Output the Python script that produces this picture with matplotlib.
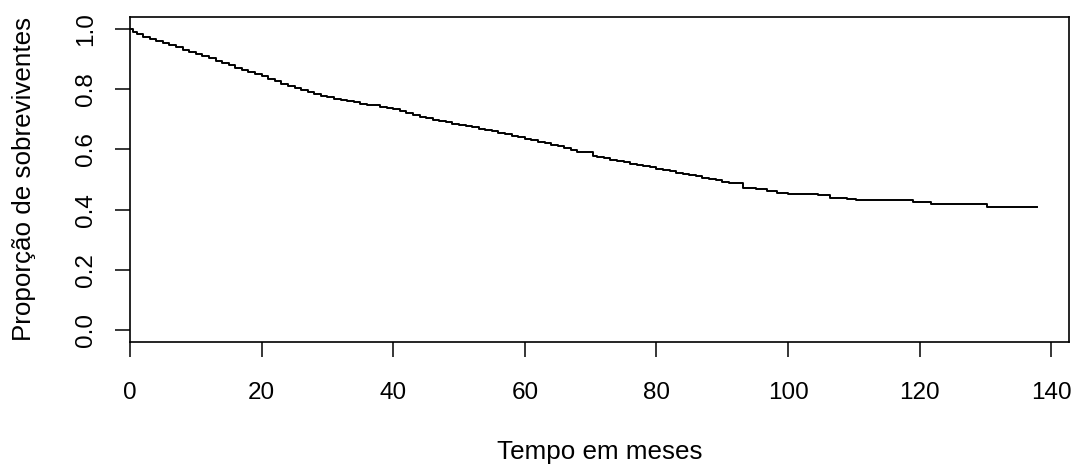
import numpy as np
import matplotlib.pyplot as plt

# Curva de Kaplan-Meier (tempo em meses, proporção)
tempo = [0, 0.5, 1, 2, 3, 4, 5, 6, 7, 8, 9, 10, 11, 12, 13, 14, 15, 16, 17, 18, 19,
         20, 21, 22, 23, 24, 25, 26, 27, 28, 29, 30, 31, 32, 33, 34, 35, 36, 37, 38, 39,
         40, 41, 42, 43, 44, 45, 46, 47, 48, 49, 50, 51, 52, 53, 54, 55, 56, 57, 58, 59,
         60, 61, 62, 63, 64, 65, 66, 67, 68, 70.4, 71, 72, 73, 74, 75, 76, 77, 78, 79,
         80, 81, 82, 83, 84, 85, 86, 87, 88, 89, 90, 91, 93.2, 95.2, 96.8, 98.3,
         100, 104.6, 106.4, 108.9, 110.4, 119, 121.7, 130.3, 137.8]
sobrev = [1.000, 0.990, 0.982, 0.973, 0.966, 0.959, 0.953, 0.946, 0.939, 0.932, 0.925,
          0.917, 0.910, 0.903, 0.895, 0.887, 0.879, 0.872, 0.865, 0.858, 0.851,
          0.843, 0.835, 0.826, 0.818, 0.811, 0.804, 0.797, 0.790, 0.784, 0.778,
          0.773, 0.768, 0.764, 0.760, 0.756, 0.752, 0.749, 0.746, 0.742, 0.737,
          0.733, 0.727, 0.721, 0.714, 0.708, 0.703, 0.698, 0.694, 0.690, 0.686,
          0.682, 0.678, 0.674, 0.669, 0.665, 0.660, 0.656, 0.651, 0.645, 0.640,
          0.635, 0.631, 0.626, 0.621, 0.616, 0.610, 0.604, 0.598, 0.592, 0.578,
          0.574, 0.570, 0.566, 0.562, 0.557, 0.553, 0.549, 0.544, 0.540,
          0.536, 0.531, 0.527, 0.523, 0.518, 0.514, 0.510, 0.506, 0.502, 0.497,
          0.492, 0.487, 0.472, 0.467, 0.461, 0.456,
          0.452, 0.447, 0.440, 0.436, 0.431, 0.426, 0.420, 0.409, 0.409]

xticks = [0, 20, 40, 60, 80, 100, 120, 140]
yticks = [0.0, 0.2, 0.4, 0.6, 0.8, 1.0]

plt.rcParams['font.family'] = ['Liberation Sans', 'DejaVu Sans']
plt.rcParams['font.size'] = 17.5

fig = plt.figure(figsize=(10.74, 4.66), dpi=100)
ax = fig.add_axes([130 / 1074, 1 - 342 / 466, 939 / 1074, 325 / 466])

ax.plot(tempo, sobrev, drawstyle='steps-post', color='black', lw=1.4)

ax.set_xlim(0, 142.7)
ax.set_ylim(-0.04, 1.04)
ax.set_xticks(xticks)
ax.set_xticklabels([str(t) for t in xticks])
ax.set_yticks(yticks)
ax.set_yticklabels(['%.1f' % v for v in yticks], rotation=90, va='center')

for s in ax.spines.values():
    s.set_linewidth(1.2)
    s.set_color('black')
ax.tick_params(length=11, width=1.1, color='black')
ax.tick_params(axis='x', pad=18)
ax.tick_params(axis='y', pad=13)

fig.text(599.5 / 1074, 1 - 452 / 466, 'Tempo em meses', ha='center', va='center',
         fontsize=18.7)
fig.text(24 / 1074, 1 - 179 / 466, 'Proporção de sobreviventes',
         ha='center', va='center', rotation=90, fontsize=18.7)

fig.savefig('out.png', dpi=100)
